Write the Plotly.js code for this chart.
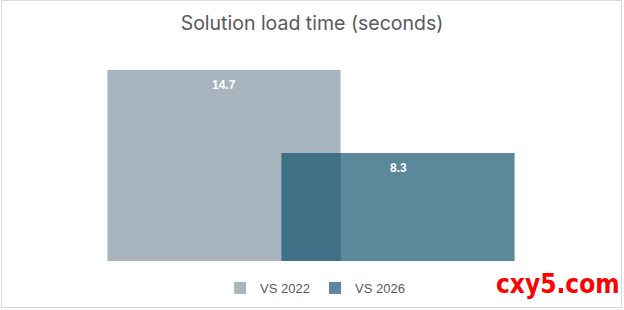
<!DOCTYPE html>
<html>
<head>
<meta charset="utf-8">
<script src="https://cdn.plot.ly/plotly-3.0.1.min.js"></script>
<style>
html,body{margin:0;padding:0;background:#fff;}
#wrap{position:relative;width:624px;height:310px;}
#chart{width:624px;height:310px;}
#frame{position:absolute;left:1px;top:0px;width:619px;height:306px;border:1px solid #d9d9d9;pointer-events:none;}
</style>
</head>
<body>
<div id="wrap"><div id="chart"></div><div id="frame"></div></div>
<script>
const seriesNames = ["VS 2022", "VS 2026"];
const positions = [0, 1];
const loadTimes = [14.7, 8.3];
const labels = ["14.7", "8.3"];
const chartTitle = "Solution load time (seconds)";
const watermark = "cxy5.com";

const colors = ["#a8b5bf", "rgba(12,79,105,0.675)"];

const traces = seriesNames.map((name, i) => ({
  type: "bar",
  name: name,
  x: [positions[i]],
  y: [loadTimes[i]],
  width: 1.34,
  marker: {color: colors[i], line: {width: 0}},
  hoverinfo: "none"
}));

const annotations = seriesNames.map((name, i) => ({
  x: positions[i], y: loadTimes[i], xref: "x", yref: "y",
  text: "<b>" + labels[i] + "</b>", showarrow: false,
  yshift: -15, font: {family: "Liberation Sans, Arial, sans-serif", size: 12, color: "#ffffff"}
}));
annotations.push({
  xref: "paper", yref: "paper", x: 1.095, y: -0.19, xanchor: "right", yanchor: "bottom",
  text: "<b>" + watermark + "</b>", showarrow: false,
  font: {family: "DejaVu Sans Condensed, sans-serif", size: 26, color: "#ff0000"}
});

const layout = {
  width: 624, height: 310,
  margin: {l: 50, r: 52, t: 53, b: 49, autoexpand: false},
  paper_bgcolor: "#ffffff", plot_bgcolor: "#ffffff",
  barmode: "overlay",
  title: {text: chartTitle, x: 0.5, xanchor: "center", y: 0.925, yanchor: "middle",
    font: {family: "Inter, Noto Sans, sans-serif", size: 19.5, color: "#595959"}},
  xaxis: {range: [-1, 2], visible: false, fixedrange: true},
  yaxis: {range: [0, 16], visible: false, fixedrange: true},
  showlegend: true,
  legend: {orientation: "h", xref: "container", yref: "container", x: 0.505, xanchor: "center", y: 0.071, yanchor: "middle",
    font: {family: "Liberation Sans, Arial, sans-serif", size: 13, color: "#595959"},
    itemwidth: 30, traceorder: "normal"},
  annotations: annotations
};

Plotly.newPlot("chart", traces, layout, {staticPlot: true, displayModeBar: false});
</script>
</body>
</html>
